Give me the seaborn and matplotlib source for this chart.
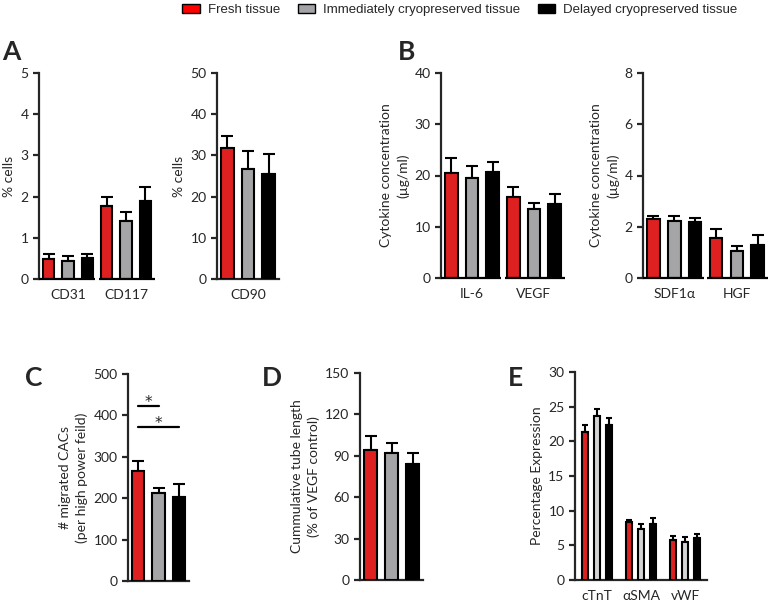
import numpy as np
import pandas as pd
import seaborn as sns
from matplotlib import pyplot as plt
from matplotlib import patches
from matplotlib.container import BarContainer

# ---- data (means and upward SEM) ----
groups = ["Fresh tissue", "Immediately cryopreserved tissue", "Delayed cryopreserved tissue"]

a1_cats = ["CD31", "CD117"]
a1_fresh = [0.48, 1.78]
a1_fresh_err = [0.13, 0.20]
a1_imm = [0.44, 1.40]
a1_imm_err = [0.11, 0.22]
a1_del = [0.50, 1.89]
a1_del_err = [0.10, 0.35]

a2_cats = ["CD90"]
a2_fresh = [31.7]
a2_fresh_err = [3.1]
a2_imm = [26.8]
a2_imm_err = [4.2]
a2_del = [25.4]
a2_del_err = [4.9]

b1_cats = ["IL-6", "VEGF"]
b1_fresh = [20.4, 15.9]
b1_fresh_err = [3.0, 1.9]
b1_imm = [19.6, 13.4]
b1_imm_err = [2.3, 1.3]
b1_del = [20.6, 14.5]
b1_del_err = [2.0, 1.8]

b2_cats = ["SDF1α", "HGF"]
b2_fresh = [2.29, 1.55]
b2_fresh_err = [0.13, 0.35]
b2_imm = [2.22, 1.04]
b2_imm_err = [0.20, 0.21]
b2_del = [2.18, 1.28]
b2_del_err = [0.17, 0.40]

c_cats = ["CAC"]
c_fresh = [265]
c_fresh_err = [25]
c_imm = [213]
c_imm_err = [12]
c_del = [204]
c_del_err = [31]
c_sig_levels = [423, 372]

d_cats = ["tube"]
d_fresh = [94]
d_fresh_err = [10]
d_imm = [92]
d_imm_err = [7]
d_del = [84]
d_del_err = [8]

e_cats = ["cTnT", "αSMA", "vWF"]
e_fresh = [21.3, 8.3, 5.8]
e_fresh_err = [1.0, 0.4, 0.5]
e_imm = [23.7, 7.3, 5.5]
e_imm_err = [0.9, 0.8, 0.7]
e_del = [22.3, 8.1, 6.1]
e_del_err = [1.0, 0.8, 0.5]

PAL = ["#ff0000", "#a4a4a8", "#000000"]
PAL_E = ["#ff0000", "#d4d4d4", "#000000"]

sns.set_style("ticks")
plt.rcParams["font.family"] = ["Lato", "DejaVu Sans"]
plt.rcParams["axes.linewidth"] = 1.6
plt.rcParams["ytick.major.width"] = 1.6
plt.rcParams["ytick.major.size"] = 4
plt.rcParams["ytick.labelsize"] = 10
plt.rcParams["xtick.labelsize"] = 10
plt.rcParams["axes.labelsize"] = 10

W, H = 770, 603
fig = plt.figure(figsize=(W / 100, H / 100), dpi=100)


def px_axes(left, right, top, bottom):
    return fig.add_axes([left / W, 1 - bottom / H, (right - left) / W, (bottom - top) / H])


def bar_containers(ax):
    return [c for c in ax.containers if isinstance(c, BarContainer)]


def draw_panel(ax, cats, means, errs, ylim, yticks, ylabel, palette=PAL,
               width=1.0, gap=0.4, broken=True, show_x=True, capsize=4):
    df = pd.DataFrame({
        "cat": np.repeat([cats], 3, axis=0).ravel(),
        "group": np.repeat(groups, len(cats)),
        "value": np.concatenate(means),
    })
    sns.barplot(data=df, x="cat", y="value", hue="group", hue_order=groups,
                palette=palette, width=width, gap=gap, edgecolor="black",
                linewidth=1.5, legend=False, ax=ax, zorder=3)
    for cont, err in zip(bar_containers(ax), errs):
        xs = [p.get_x() + p.get_width() / 2 for p in cont]
        ys = [p.get_height() for p in cont]
        ax.errorbar(xs, ys, yerr=[np.zeros(len(err)), err], fmt="none",
                    ecolor="black", elinewidth=1.5, capsize=capsize, capthick=1.5, zorder=2)
    ax.set_xlim(-0.5, len(cats) - 0.5)
    ax.set_ylim(*ylim)
    ax.set_yticks(yticks)
    ax.set_ylabel(ylabel, linespacing=1.4)
    ax.set_xlabel("")
    ax.tick_params(axis="x", length=0, pad=7)
    if not show_x:
        ax.set_xticklabels([])
    sns.despine(ax=ax)
    if broken and len(cats) > 1:
        ax.spines["bottom"].set_visible(False)
        g = 0.03
        for i in range(len(cats)):
            x0 = i - 0.5 + (g if i > 0 else 0)
            x1 = i + 0.5 - (g if i < len(cats) - 1 else 0)
            ax.plot([x0, x1], [0, 0], color="black", lw=1.6, clip_on=False,
                    transform=ax.get_xaxis_transform(), solid_capstyle="butt", zorder=5)


ax_a1 = px_axes(39, 155, 73, 279)
draw_panel(ax_a1, a1_cats, [a1_fresh, a1_imm, a1_del], [a1_fresh_err, a1_imm_err, a1_del_err],
           (0, 5), range(0, 6), "% cells")
ax_a2 = px_axes(217, 279, 73, 279)
draw_panel(ax_a2, a2_cats, [a2_fresh, a2_imm, a2_del], [a2_fresh_err, a2_imm_err, a2_del_err],
           (0, 50), range(0, 51, 10), "% cells")
ax_b1 = px_axes(441, 565, 73, 278)
draw_panel(ax_b1, b1_cats, [b1_fresh, b1_imm, b1_del], [b1_fresh_err, b1_imm_err, b1_del_err],
           (0, 40), range(0, 41, 10), "Cytokine concentration\n(µg/ml)")
ax_b2 = px_axes(643, 768, 73, 278)
draw_panel(ax_b2, b2_cats, [b2_fresh, b2_imm, b2_del], [b2_fresh_err, b2_imm_err, b2_del_err],
           (0, 8), range(0, 9, 2), "Cytokine concentration\n(µg/ml)")
ax_c = px_axes(128, 189, 374, 581)
draw_panel(ax_c, c_cats, [c_fresh, c_imm, c_del], [c_fresh_err, c_imm_err, c_del_err],
           (0, 500), range(0, 501, 100), "# migrated CACs\n(per high power feild)", show_x=False)
ax_d = px_axes(360, 423, 373, 580)
draw_panel(ax_d, d_cats, [d_fresh, d_imm, d_del], [d_fresh_err, d_imm_err, d_del_err],
           (0, 150), range(0, 151, 30), "Cummulative tube length\n(% of VEGF control)", show_x=False)
ax_e = px_axes(575, 707, 372, 580)
draw_panel(ax_e, e_cats, [e_fresh, e_imm, e_del], [e_fresh_err, e_imm_err, e_del_err],
           (0, 30), range(0, 31, 5), "Percentage Expression", palette=PAL_E,
           width=0.8, gap=0.45, broken=False, capsize=2.5)

# significance bars in C
centers = [c[0].get_x() + c[0].get_width() / 2 for c in bar_containers(ax_c)]
for target, level in zip([1, 2], c_sig_levels):
    ax_c.plot([centers[0], centers[target]], [level, level], color="black", lw=1.6, clip_on=False)
    ax_c.text((centers[0] + centers[target]) / 2, level - 2, "*", ha="center", va="baseline",
              fontsize=11, family="DejaVu Sans")

# panel letters
for lab, x, y in [("A", 2, 52), ("B", 398, 52), ("C", 25, 378), ("D", 262, 378), ("E", 508, 378)]:
    fig.text(x / W, 1 - y / H, lab, fontsize=19, fontweight="bold", va="center", ha="left")

handles = [patches.Patch(facecolor=c, edgecolor="black", linewidth=1.0) for c in PAL]
fig.legend(handles, groups, loc="upper center", bbox_to_anchor=(460 / W, 1 + 8 / H), ncol=3,
           frameon=False, handlelength=1.3, handleheight=0.62, handletextpad=0.62,
           columnspacing=1.35, prop={"family": ["Liberation Sans", "DejaVu Sans"], "size": 9.5})

fig.savefig("out.png", dpi=100)
